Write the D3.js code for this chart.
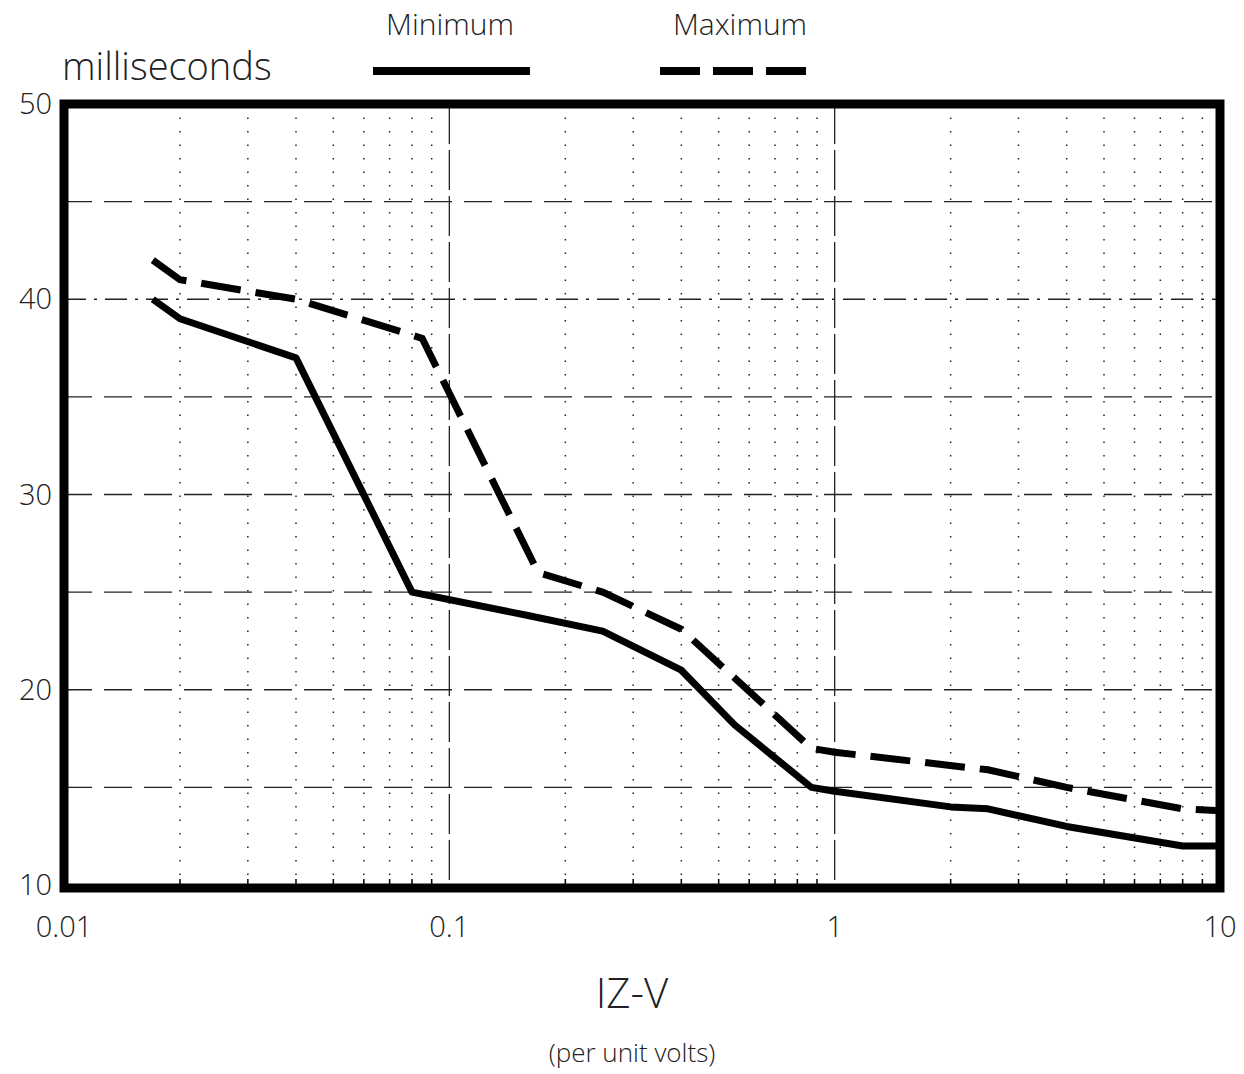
<!DOCTYPE html>
<html>
<head>
<meta charset="utf-8">
<script src="https://cdn.jsdelivr.net/npm/d3@7"></script>
<style>
  body { margin: 0; background: #fff; }
  svg text { font-family: "Open Sans", "Liberation Sans", Arial, sans-serif; font-weight: 300; fill: #222; }
</style>
</head>
<body>
<div id="chart"></div>
<script>
// IZ-V vs time chart, log x axis

// Data
const minX = [0.017, 0.02, 0.04, 0.08, 0.16, 0.25, 0.4, 0.55, 0.87, 1, 2, 2.5, 4, 8, 10];
const minY = [40, 39, 37, 25, 23.8, 23, 21, 18.2, 15, 14.8, 14, 13.9, 13, 12, 12];
const maxX = [0.017, 0.02, 0.04, 0.085, 0.17, 0.25, 0.4, 0.87, 1, 2.5, 4, 8, 10];
const maxY = [42, 41, 40, 38, 26, 25, 23.1, 17, 16.8, 15.9, 15, 13.9, 13.8];
const xTicks = [0.01, 0.1, 1, 10];
const xTickLabels = ["0.01", "0.1", "1", "10"];
const yTicks = [10, 20, 30, 40, 50];
const yGrid = [15, 20, 25, 30, 35, 40, 45];

const W = 1244, H = 1074;
const plotL = 64, plotR = 1220, plotT = 104, plotB = 885;

const svg = d3.select("#chart")
    .append("svg")
    .attr("width", W)
    .attr("height", H);

const x = d3.scaleLog().domain([0.01, 10]).range([plotL, plotR]);
const y = d3.scaleLinear().domain([10, 50]).range([plotB, plotT]);

// minor vertical dotted grid
const minor = [];
[0.01, 0.1, 1].forEach(d => { for (let k = 2; k <= 9; k++) minor.push(d * k); });

svg.append("g")
    .selectAll("line")
    .data(minor)
    .enter()
    .append("line")
    .attr("x1", d => x(d)).attr("x2", d => x(d))
    .attr("y1", plotT).attr("y2", plotB)
    .attr("stroke", "#222")
    .attr("stroke-width", 1.5)
    .attr("stroke-dasharray", "1.5,12");

// major vertical grid
svg.append("g")
    .selectAll("line")
    .data([0.1, 1])
    .enter()
    .append("line")
    .attr("x1", d => x(d)).attr("x2", d => x(d))
    .attr("y1", plotT).attr("y2", plotB)
    .attr("stroke", "#222")
    .attr("stroke-width", 1.3)
    .attr("stroke-dasharray", "40,6");

// horizontal grid
svg.append("g")
    .selectAll("line")
    .data(yGrid)
    .enter()
    .append("line")
    .attr("x1", plotL).attr("x2", plotR)
    .attr("y1", d => y(d)).attr("y2", d => y(d))
    .attr("stroke", "#222")
    .attr("stroke-width", 1.3)
    .attr("stroke-dasharray", d => d === 40 ? "22,8,3,8" : "28,12");

// bottom minor ticks
svg.append("g")
    .selectAll("line")
    .data(minor)
    .enter()
    .append("line")
    .attr("x1", d => x(d)).attr("x2", d => x(d))
    .attr("y1", plotB - 6).attr("y2", plotB)
    .attr("stroke", "#000")
    .attr("stroke-width", 1.5);

// series
const line = d3.line()
    .x(d => x(d[0]))
    .y(d => y(d[1]));

svg.append("path")
    .datum(minX.map((v, i) => [v, minY[i]]))
    .attr("d", line)
    .attr("fill", "none")
    .attr("stroke", "#000")
    .attr("stroke-width", 7)
    .attr("stroke-linejoin", "round");

svg.append("path")
    .datum(maxX.map((v, i) => [v, maxY[i]]))
    .attr("d", line)
    .attr("fill", "none")
    .attr("stroke", "#000")
    .attr("stroke-width", 7)
    .attr("stroke-dasharray", "40,15");

// frame
svg.append("rect")
    .attr("x", plotL).attr("y", plotT)
    .attr("width", plotR - plotL).attr("height", plotB + 3 - plotT)
    .attr("fill", "none")
    .attr("stroke", "#000")
    .attr("stroke-width", 9);

// y labels
svg.append("g")
    .selectAll("text")
    .data(yTicks)
    .enter()
    .append("text")
    .attr("x", 52)
    .attr("y", d => y(d) + 10)
    .attr("text-anchor", "end")
    .style("font-size", "29px")
    .text(d => d);

// x labels
svg.append("g")
    .selectAll("text")
    .data(xTicks)
    .enter()
    .append("text")
    .attr("x", d => x(d))
    .attr("y", 937)
    .attr("text-anchor", "middle")
    .style("font-size", "29px")
    .text((d, i) => xTickLabels[i]);

// titles
svg.append("text")
    .attr("x", 62).attr("y", 80)
    .style("font-size", "38px")
    .text("milliseconds");

svg.append("text")
    .attr("x", 632).attr("y", 1008)
    .attr("text-anchor", "middle")
    .style("font-size", "42px")
    .text("IZ-V");

svg.append("text")
    .attr("x", 632).attr("y", 1062)
    .attr("text-anchor", "middle")
    .style("font-size", "26px")
    .text("(per unit volts)");

// legend
svg.append("text")
    .attr("x", 450).attr("y", 35)
    .attr("text-anchor", "middle")
    .style("font-size", "30px")
    .text("Minimum");

svg.append("text")
    .attr("x", 740).attr("y", 35)
    .attr("text-anchor", "middle")
    .style("font-size", "30px")
    .text("Maximum");

svg.append("line")
    .attr("x1", 373).attr("x2", 530)
    .attr("y1", 71).attr("y2", 71)
    .attr("stroke", "#000")
    .attr("stroke-width", 8);

svg.append("line")
    .attr("x1", 660).attr("x2", 815)
    .attr("y1", 71).attr("y2", 71)
    .attr("stroke", "#000")
    .attr("stroke-width", 8)
    .attr("stroke-dasharray", "40,13");
</script>
</body>
</html>
